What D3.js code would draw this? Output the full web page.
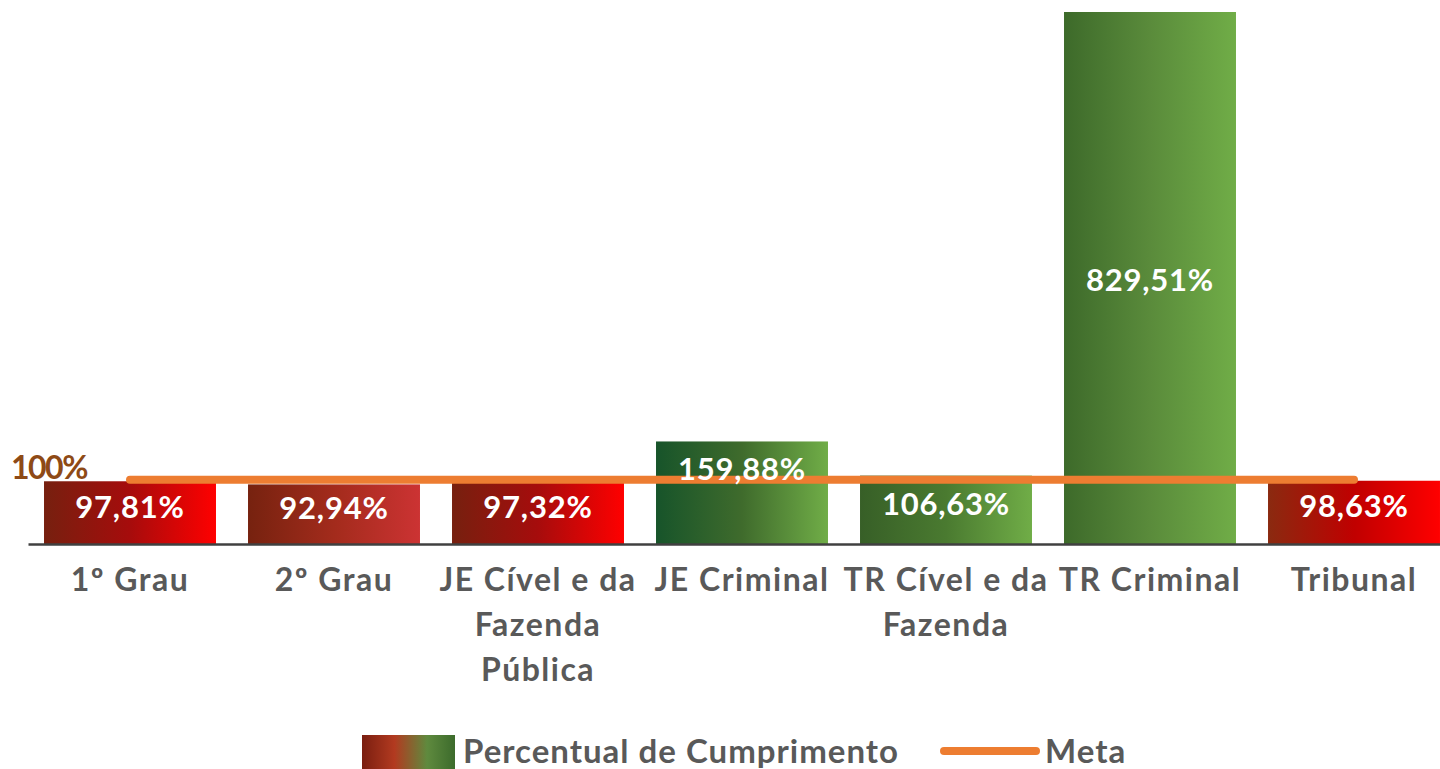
<!DOCTYPE html>
<html>
<head>
<meta charset="utf-8">
<script src="https://cdn.jsdelivr.net/npm/d3@7"></script>
<style>
  body { margin: 0; background: #fff; }
  svg { display: block; font-family: Lato, "Open Sans", sans-serif; }
</style>
</head>
<body>
<script>
// data
var categories = ["1º Grau", "2º Grau", "JE Cível e da Fazenda Pública", "JE Criminal",
                  "TR Cível e da Fazenda", "TR Criminal", "Tribunal"];
var values = [97.81, 92.94, 97.32, 159.88, 106.63, 829.51, 98.63];
var valueLabels = ["97,81%", "92,94%", "97,32%", "159,88%", "106,63%", "829,51%", "98,63%"];
var meta = 100;
var metaLabel = "100%";
var legendLabels = ["Percentual de Cumprimento", "Meta"];

// gradient stops per bar (left -> right)
var barColors = [
  ["#76200f", "#a60c0c", "#ff0000"],
  ["#76220f", "#a32b1c", "#cc3333"],
  ["#76200f", "#a60c0c", "#ff0000"],
  ["#17542a", "#3f6b2c", "#70ad47"],
  ["#375f27", "#4a7a30", "#70ad47"],
  ["#3d6a2a", "#5a8b3b", "#70ad47"],
  ["#8a2a10", "#c00000", "#ff0000"]
];

var w = 1440;
var h = 769;
var baseY = 544;

var svg = d3.select("body")
            .append("svg")
            .attr("width", w)
            .attr("height", h);

var defs = svg.append("defs");

var x = d3.scaleBand()
          .domain(categories)
          .range([28, 1456])
          .paddingInner(0.157)
          .paddingOuter(0.0785);

var y = d3.scaleLinear()
          .domain([0, d3.max(values)])
          .range([baseY, 12]);

barColors.forEach(function(c, i) {
    var g = defs.append("linearGradient")
                .attr("id", "grad" + i)
                .attr("x1", "0%").attr("x2", "100%")
                .attr("y1", "0%").attr("y2", "0%");
    g.append("stop").attr("offset", "0%").attr("stop-color", c[0]);
    g.append("stop").attr("offset", "50%").attr("stop-color", c[1]);
    g.append("stop").attr("offset", "100%").attr("stop-color", c[2]);
});

var lg = defs.append("linearGradient")
             .attr("id", "legendGrad")
             .attr("x1", "0%").attr("x2", "100%");
lg.append("stop").attr("offset", "0%").attr("stop-color", "#7a1e10");
lg.append("stop").attr("offset", "35%").attr("stop-color", "#b23a20");
lg.append("stop").attr("offset", "70%").attr("stop-color", "#5f8a3e");
lg.append("stop").attr("offset", "100%").attr("stop-color", "#3c6b2c");

// bars
svg.selectAll("rect.bar")
   .data(values)
   .enter()
   .append("rect")
   .attr("class", "bar")
   .attr("x", function(d, i) { return x(categories[i]); })
   .attr("y", function(d) { return y(d); })
   .attr("width", x.bandwidth())
   .attr("height", function(d) { return baseY - y(d); })
   .attr("fill", function(d, i) { return "url(#grad" + i + ")"; });

// axis line
var xAxis = svg.append("g")
   .attr("transform", "translate(0," + baseY + ")")
   .call(d3.axisBottom(x).tickSize(0).tickPadding(0).tickFormat(""));
xAxis.select(".domain").attr("stroke", "#404040").attr("stroke-width", 2.5);

// meta line
var metaLine = d3.line()
    .x(function(d) { return x(d) + x.bandwidth() / 2; })
    .y(function() { return y(meta); });

svg.append("path")
   .datum([categories[0], categories[categories.length - 1]])
   .attr("d", metaLine)
   .attr("fill", "none")
   .attr("stroke", "#ed7d31")
   .attr("stroke-width", 8)
   .attr("stroke-linecap", "round");

svg.append("text")
   .text(metaLabel)
   .attr("x", 11)
   .attr("y", y(meta) - 1)
   .attr("font-size", "32px")
   .attr("font-weight", "bold")
   .attr("fill", "#8e4a16")
   .attr("letter-spacing", "-1.5px");

// value labels
svg.selectAll("text.value")
   .data(values)
   .enter()
   .append("text")
   .attr("class", "value")
   .text(function(d, i) { return valueLabels[i]; })
   .attr("x", function(d, i) { return x(categories[i]) + x.bandwidth() / 2; })
   .attr("y", function(d, i) {
       if (i === 3) return y(d) + 39;
       if (d > 500) return (y(d) + baseY) / 2 + 13;
       return (y(d) + baseY) / 2 + 5;
   })
   .attr("text-anchor", "middle")
   .attr("font-size", "31px")
   .attr("font-weight", "bold")
   .attr("letter-spacing", "0.8px")
   .attr("fill", "white");

// category labels, wrapped
function wrapWords(str, maxW, measure) {
    var words = str.split(" ");
    var lines = [];
    var cur = "";
    words.forEach(function(wd) {
        var test = cur ? cur + " " + wd : wd;
        if (cur && measure(test) > maxW) {
            lines.push(cur);
            cur = wd;
        } else {
            cur = test;
        }
    });
    lines.push(cur);
    return lines;
}

var measurer = svg.append("text")
   .attr("font-size", "32px")
   .attr("font-weight", "bold")
   .attr("letter-spacing", "1.5px")
   .attr("visibility", "hidden");
function measure(s) {
    measurer.text(s);
    return measurer.node().getComputedTextLength();
}

categories.forEach(function(c, i) {
    var lines = wrapWords(c, 212, measure);
    var t = svg.append("text")
       .attr("text-anchor", "middle")
       .attr("font-size", "32px")
       .attr("font-weight", "bold")
       .attr("letter-spacing", "1.5px")
       .attr("fill", "#595959");
    lines.forEach(function(l, j) {
        t.append("tspan")
         .attr("x", x(c) + x.bandwidth() / 2)
         .attr("y", 591 + j * 45)
         .text(l);
    });
});
measurer.remove();

// legend
svg.append("rect")
   .attr("x", 362)
   .attr("y", 735)
   .attr("width", 93)
   .attr("height", 34)
   .attr("fill", "url(#legendGrad)");

svg.append("text")
   .text(legendLabels[0])
   .attr("x", 463)
   .attr("y", 763)
   .attr("font-size", "33px")
   .attr("font-weight", "bold")
   .attr("letter-spacing", "1px")
   .attr("fill", "#595959");

svg.append("line")
   .attr("x1", 944).attr("x2", 1036)
   .attr("y1", 751).attr("y2", 751)
   .attr("stroke", "#ed7d31")
   .attr("stroke-width", 8)
   .attr("stroke-linecap", "round");

svg.append("text")
   .text(legendLabels[1])
   .attr("x", 1045)
   .attr("y", 763)
   .attr("font-size", "33px")
   .attr("font-weight", "bold")
   .attr("letter-spacing", "1px")
   .attr("fill", "#595959");
</script>
</body>
</html>
